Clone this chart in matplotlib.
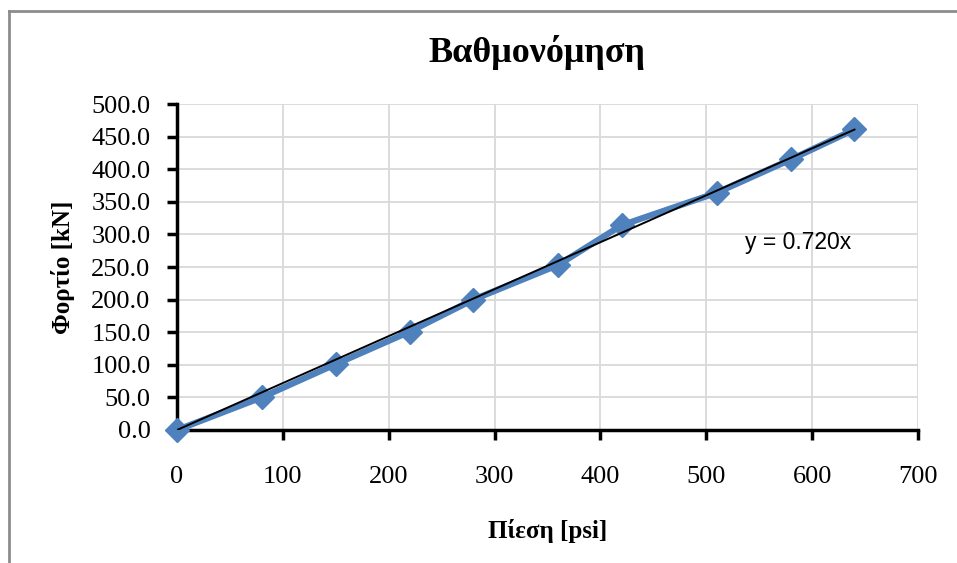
import numpy as np
import matplotlib
matplotlib.use('Agg')
import matplotlib.pyplot as plt
from matplotlib.lines import Line2D

# calibration data
pressure = [0, 80, 150, 220, 280, 360, 420, 510, 580, 640]   # psi
load = [0, 50, 101, 151, 200, 253, 314, 364, 415, 461]       # kN
slope = 0.720

title = 'Βαθμονόμηση'
xlabel = 'Πίεση [psi]'
ylabel = 'Φορτίο [kN]'
x_ticks = [0, 100, 200, 300, 400, 500, 600, 700]
y_ticks = [0, 50, 100, 150, 200, 250, 300, 350, 400, 450, 500]

serif = 'Liberation Serif'
blue = '#4F81BD'

def main():
    fig = plt.figure(figsize=(9.57, 5.63), dpi=100)
    ax = fig.add_axes([177/957, 133/563, 741/957, 326/563])

    ax.plot(pressure, load, color=blue, linewidth=4.5, marker='D',
            markersize=12, markeredgecolor=blue, zorder=3, clip_on=False)
    xt = np.array([0, pressure[-1]])
    ax.plot(xt, slope * xt, color='black', linewidth=1.4, zorder=4)

    ax.set_xlim(0, 700)
    ax.set_ylim(0, 500)
    ax.set_xticks(x_ticks)
    ax.set_yticks(y_ticks)
    ax.set_yticklabels(['%.1f' % v for v in y_ticks])
    ax.grid(True, color='#d9d9d9', linewidth=1.3)
    ax.set_axisbelow(True)

    for s in ['top', 'right']:
        ax.spines[s].set_visible(False)
    for s in ['left', 'bottom']:
        ax.spines[s].set_linewidth(2.5)
    ax.tick_params(axis='both', direction='out', length=7, width=2.5,
                   labelsize=19)
    ax.tick_params(axis='x', pad=19)
    ax.tick_params(axis='y', pad=12)
    for lab in ax.get_xticklabels() + ax.get_yticklabels():
        lab.set_fontfamily(serif)

    ax.set_xlabel(xlabel, fontfamily=serif, fontweight='bold', fontsize=18,
                  labelpad=22)
    ax.set_ylabel(ylabel, fontfamily=serif, fontweight='bold', fontsize=18,
                  labelpad=12)
    fig.text(537/957, 1 - 52/563, title, fontfamily=serif, fontweight='bold',
             fontsize=26, ha='center', va='center')

    ax.text(537, 288, 'y = 0.720x', fontfamily='Liberation Sans', fontsize=16.5,
            va='center')

    # chart frame
    fig.add_artist(Line2D([9/957, 9/957], [0, 1 - 11/563], color='#8c8c8c',
                          linewidth=2, transform=fig.transFigure))
    fig.add_artist(Line2D([9/957, 1], [1 - 11/563, 1 - 11/563], color='#8c8c8c',
                          linewidth=2, transform=fig.transFigure))

    fig.savefig('out.png', dpi=100)

if __name__ == "__main__":
    main()
